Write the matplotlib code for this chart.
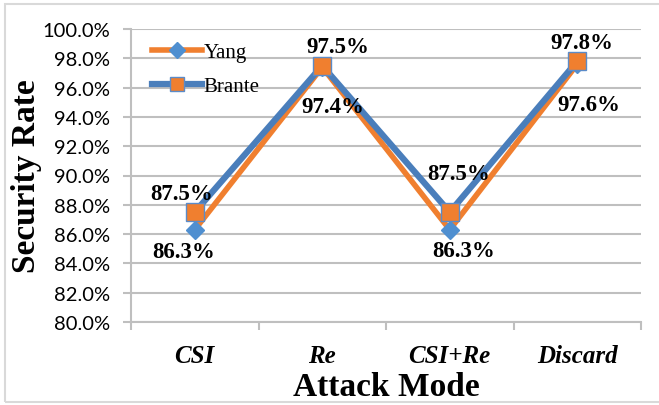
import matplotlib.pyplot as plt
from matplotlib.patches import Rectangle
from matplotlib.ticker import FuncFormatter

# Security rate per attack mode
modes = ['CSI', 'Re', 'CSI+Re', 'Discard']
yang = [86.3, 97.4, 86.3, 97.6]
brante = [87.5, 97.5, 87.5, 97.8]

# label offsets in pixels for each value label
yang_off = [(-11, -22), (11, -39), (14, -21), (12, -40)]
brante_off = [(-13, 19), (16, 19), (9, 39), (5, 19)]

orange = '#F07F2F'
blue = '#4A7EBB'
grid = '#BFBFBF'

fig = plt.figure(figsize=(6.59, 4.06), dpi=100)
ax = fig.add_axes([131 / 659, 1 - 323 / 406, 510 / 659, 293 / 406])

x = list(range(len(modes)))
ax.plot(x, yang, color=orange, lw=4, marker='D', ms=9,
        mfc='#4F8FD0', mec='#4F8FD0', label='Yang', zorder=3)
ax.plot(x, brante, color=blue, lw=4.5, marker='s', ms=12.5,
        mfc=orange, mec='#5B8BC8', mew=1, label='Brante', zorder=4)

lab_font = dict(family='Liberation Serif', weight='bold', size=16.5, color='black')
for xi, v, off in zip(x, yang, yang_off):
    ax.annotate(f'{v:.1f}%', (xi, v), xytext=off, textcoords='offset pixels',
                ha='center', va='center', zorder=5, **lab_font)
for xi, v, off in zip(x, brante, brante_off):
    ax.annotate(f'{v:.1f}%', (xi, v), xytext=off, textcoords='offset pixels',
                ha='center', va='center', zorder=5, **lab_font)

ax.set_xlim(-0.5, 3.5)
ax.set_ylim(80, 100)
ax.set_yticks(range(80, 101, 2))
ax.yaxis.set_major_formatter(FuncFormatter(lambda v, p: f'{v:.1f}%'))
ax.grid(axis='y', color=grid, lw=1.5)
ax.set_axisbelow(True)

ax.set_xticks(x)
ax.set_xticklabels(modes, fontfamily='Liberation Serif', fontweight='bold',
                   fontstyle='italic', fontsize=18)
ax.set_xticks([-0.5, 0.5, 1.5, 2.5, 3.5], minor=True)
ax.tick_params(axis='x', which='major', length=0, pad=16)
ax.tick_params(axis='x', which='minor', length=6, color=grid, width=1.5)
ax.tick_params(axis='y', length=6, color=grid, width=1.5, labelsize=14.5, pad=9)
for t in ax.get_yticklabels():
    t.set_fontfamily('Lato')

for s in ['top', 'right']:
    ax.spines[s].set_visible(False)
for s in ['left', 'bottom']:
    ax.spines[s].set_color(grid)
    ax.spines[s].set_linewidth(1.5)

ax.set_ylabel('Security Rate', fontfamily='Liberation Serif', fontweight='bold',
              fontsize=24, labelpad=0)
ax.set_xlabel('Attack Mode', fontfamily='Liberation Serif', fontweight='bold',
              fontsize=24, labelpad=3)

ax.legend(loc='upper left', bbox_to_anchor=(0.02, 0.99), frameon=False,
          prop={'family': 'Liberation Serif', 'size': 15},
          handlelength=2.4, handletextpad=0.1, labelspacing=0.7,
          borderpad=0, markerscale=0.85)

# light chart border
fig.patches.append(Rectangle((5 / 659, 3 / 406), 1, 398 / 406,
                             transform=fig.transFigure, fill=False,
                             edgecolor='#D9D9D9', lw=1.5))

fig.savefig('out.png', dpi=100)
